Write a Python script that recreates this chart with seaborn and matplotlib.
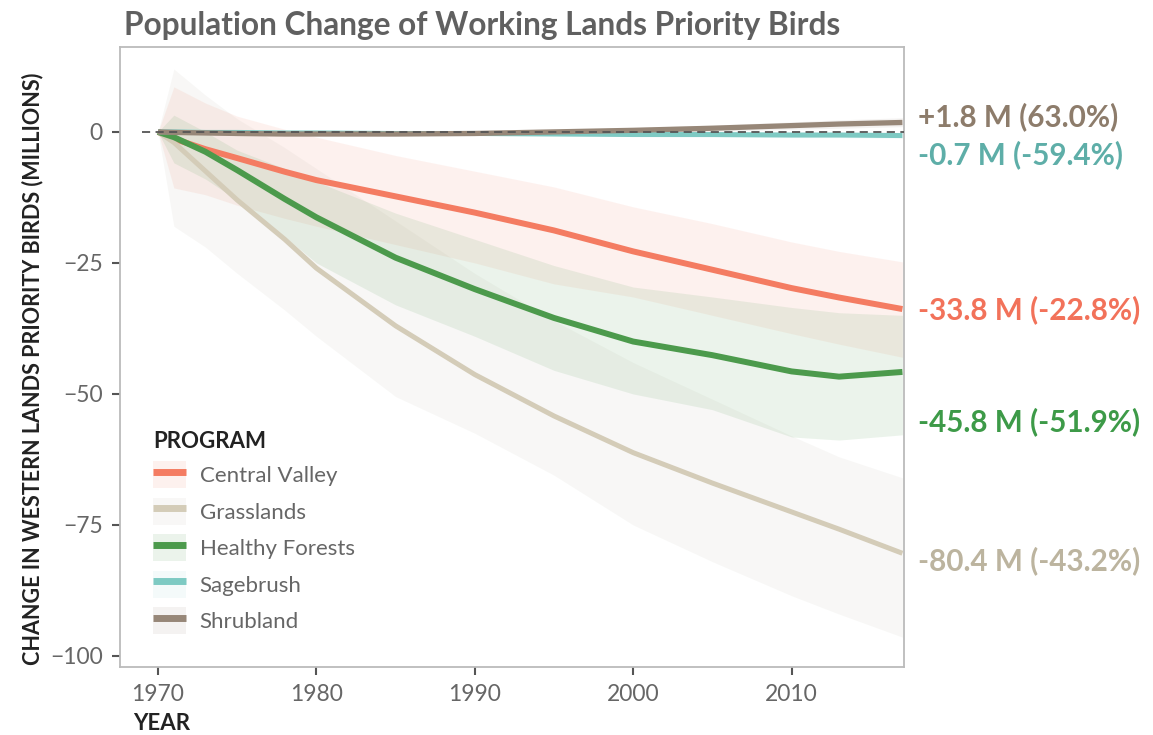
import matplotlib
matplotlib.use('Agg')
import matplotlib.pyplot as plt
from matplotlib.patches import Patch
from matplotlib.lines import Line2D
from matplotlib.legend_handler import HandlerTuple
import matplotlib.transforms as mtransforms
import seaborn as sns
import pandas as pd

# 데이터 (그림에서 읽은 값, 단위: 백만 마리)
years = [1970, 1971, 1973, 1975, 1978, 1980, 1985, 1990, 1995, 2000, 2005, 2010, 2013, 2017]
programs = ['Central Valley', 'Grasslands', 'Healthy Forests', 'Sagebrush', 'Shrubland']

central_valley = [0, -1.3, -3.3, -5.0, -7.6, -9.2, -12.3, -15.4, -18.8, -22.8, -26.3, -29.8, -31.6, -33.8]
central_valley_lo = [0, -10.7, -12.0, -14.0, -16.5, -18.0, -21.5, -25.0, -29.0, -31.5, -35.0, -38.5, -40.5, -43.0]
central_valley_hi = [0, 8.6, 5.5, 3.0, 0.5, -1.0, -4.5, -7.5, -10.5, -14.3, -17.5, -21.0, -22.8, -24.8]

grasslands = [0, -2.0, -7.5, -13.0, -20.5, -26.0, -37.0, -46.3, -54.2, -61.2, -67.0, -72.5, -75.8, -80.4]
grasslands_lo = [0, -18.0, -22.0, -27.0, -34.0, -39.0, -50.5, -57.5, -65.5, -75.0, -82.0, -88.5, -92.0, -96.4]
grasslands_hi = [0, 12.0, 7.0, 2.5, -3.0, -7.0, -17.0, -27.0, -36.0, -44.0, -51.0, -58.0, -62.0, -66.0]

healthy_forests = [0, -1.0, -3.8, -7.3, -12.8, -16.3, -24.0, -30.0, -35.5, -40.0, -42.6, -45.7, -46.7, -45.8]
healthy_forests_lo = [0, -5.9, -9.0, -13.0, -20.0, -25.0, -33.0, -39.0, -45.5, -50.0, -53.0, -58.2, -58.8, -57.8]
healthy_forests_hi = [0, 3.2, 0.0, -3.5, -7.0, -9.5, -15.5, -20.5, -25.5, -29.6, -31.5, -33.5, -34.5, -35.0]

sagebrush = [0, 0, -0.1, -0.1, -0.2, -0.2, -0.3, -0.3, -0.4, -0.5, -0.5, -0.6, -0.6, -0.7]
sagebrush_lo = [0, -0.3, -0.4, -0.4, -0.5, -0.5, -0.6, -0.7, -0.8, -0.9, -1.0, -1.1, -1.1, -1.2]
sagebrush_hi = [0, 0.3, 0.2, 0.2, 0.1, 0.1, 0.0, 0.0, -0.1, -0.1, 0.0, 0.0, 0.0, -0.1]

shrubland = [0, -0.1, -0.2, -0.3, -0.4, -0.4, -0.4, -0.3, 0.0, 0.3, 0.7, 1.2, 1.5, 1.8]
shrubland_lo = [0, -0.5, -0.6, -0.7, -0.8, -0.8, -0.8, -0.7, -0.4, -0.2, 0.1, 0.5, 0.7, 1.0]
shrubland_hi = [0, 0.3, 0.2, 0.1, 0.0, 0.0, 0.0, 0.1, 0.4, 0.8, 1.3, 1.9, 2.3, 2.7]

end_labels = ['-33.8 M (-22.8%)', '-80.4 M (-43.2%)', '-45.8 M (-51.9%)', '-0.7 M (-59.4%)', '+1.8 M (63.0%)']

series = [central_valley, grasslands, healthy_forests, sagebrush, shrubland]
bands = [(central_valley_lo, central_valley_hi), (grasslands_lo, grasslands_hi),
         (healthy_forests_lo, healthy_forests_hi), (sagebrush_lo, sagebrush_hi),
         (shrubland_lo, shrubland_hi)]

# 스타일
line_colors = ['#f47c62', '#d4ccb8', '#4c9a4c', '#7ecac3', '#978778']
band_colors = ['#f47c62', '#9e9a85', '#4c9a4c', '#7ecac3', '#978778']
band_alpha = [0.10, 0.07, 0.11, 0.08, 0.10]
label_colors = ['#f2725a', '#bcb49f', '#3d9a48', '#5eaea8', '#8d7c6b']
label_y = [-34.0, -81.9, -55.2, -4.4, 2.9]  # 오른쪽 라벨 위치 (겹침 방지용)
line_widths = [4.3, 3.6, 4.3, 3.6, 3.8]

sns.set_theme(style='white')
plt.rcParams['font.family'] = ['Lato', 'DejaVu Sans']

df = pd.DataFrame({
    'year': years * len(programs),
    'change': [v for s in series for v in s],
    'program': [p for p in programs for _ in years],
})

fig = plt.figure(figsize=(11.53, 7.35), dpi=100)
ax = fig.add_axes([120 / 1153, 1 - 667 / 735, (904 - 120) / 1153, (667 - 47) / 735])

# 신뢰구간 밴드
for i, (lo, hi) in enumerate(bands):
    ax.fill_between(years, lo, hi, color=band_colors[i], alpha=band_alpha[i], lw=0, zorder=1)

sns.lineplot(data=df, x='year', y='change', hue='program', hue_order=programs,
             palette=dict(zip(programs, line_colors)), errorbar=None, legend=False,
             ax=ax, zorder=3)
for line, lw in zip(ax.lines, line_widths):
    line.set_linewidth(lw)
    line.set_solid_capstyle('butt')

ax.hlines(0, 1969, 2017.1, color='#555555', lw=1.3, linestyles=(0, (4.5, 3)), zorder=5)

ax.set_xlim(1967.6, 2017.1)
ax.set_ylim(-102.1, 16.2)
ax.set_xticks([1970, 1980, 1990, 2000, 2010])
ax.set_yticks([-100, -75, -50, -25, 0])
ax.set_yticklabels(['\u2212100', '\u221275', '\u221250', '\u221225', '0'])
ax.tick_params(axis='both', which='major', length=5.5, width=1.5, color='#555555',
               labelsize=16.5, labelcolor='#666666', pad=7, left=True, bottom=True)
for sp in ax.spines.values():
    sp.set_color('#bbbbbb')
    sp.set_linewidth(1.3)
ax.set_xlabel('')
ax.set_ylabel('')

# 오른쪽 끝 라벨
trans = mtransforms.blended_transform_factory(ax.transAxes, ax.transData)
for i, txt in enumerate(end_labels):
    ax.text(1.018, label_y[i], txt, transform=trans, ha='left', va='center',
            fontsize=21.3, fontweight='bold', color=label_colors[i], clip_on=False)

# 제목과 축 라벨
fig.text(124 / 1153, 1 - 25 / 735, 'Population Change of Working Lands Priority Birds',
         ha='left', va='center', fontsize=22.8, fontweight='bold', color='#606060')
fig.text(33 / 1153, 1 - 369 / 735, 'CHANGE IN WESTERN LANDS PRIORITY BIRDS (MILLIONS)',
         rotation=90, ha='center', va='center', fontsize=15.5, fontweight='bold', color='#222222')
fig.text(133 / 1153, 1 - 724 / 735, 'YEAR', ha='left', va='center',
         fontsize=16, fontweight='bold', color='#222222')

# 범례
handles = []
for i in range(len(programs)):
    patch = Patch(facecolor=band_colors[i], alpha=band_alpha[i], edgecolor='none')
    line = Line2D([], [], color=line_colors[i], lw=5, solid_capstyle='butt')
    handles.append((patch, line))
leg = ax.legend(handles, programs, handler_map={tuple: HandlerTuple(ndivide=1)},
                title='PROGRAM', loc='upper left',
                bbox_to_anchor=(153 / 1153, 1 - 431 / 735), bbox_transform=fig.transFigure,
                frameon=False, fontsize=16, handlelength=1.5, handleheight=1.5,
                handletextpad=0.6, labelspacing=0.42, borderpad=0, borderaxespad=0)
leg.get_title().set_fontweight('bold')
leg.get_title().set_fontsize(16)
leg.get_title().set_color('#222222')
leg._legend_box.align = 'left'
for t in leg.get_texts():
    t.set_color('#666666')

fig.savefig('out.png', dpi=100)
